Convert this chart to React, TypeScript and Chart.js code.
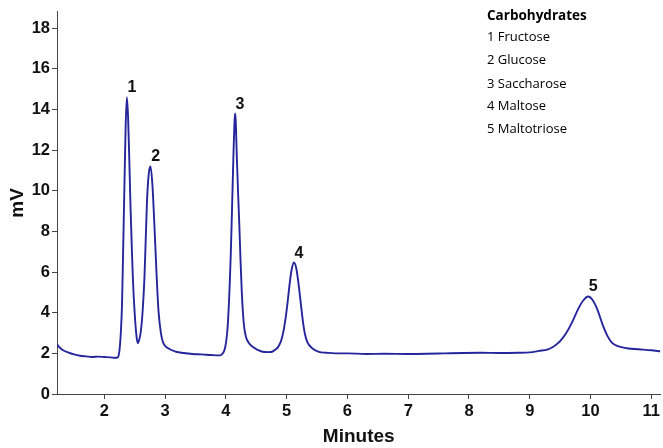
import { useEffect, useRef } from "react";
import { Chart, registerables } from "chart.js";

Chart.register(...registerables);

// Chromatogram trace: retention time (min) and detector signal (mV)
const retentionTimes = [
  1.22, 1.26, 1.32, 1.4, 1.5, 1.6, 1.7, 1.8, 1.9, 2.0, 2.1, 2.18, 2.22,
  2.25, 2.27, 2.29, 2.31, 2.33, 2.35, 2.37, 2.39, 2.41, 2.43, 2.45, 2.47, 2.5, 2.53, 2.55,
  2.58, 2.6, 2.62, 2.64, 2.66, 2.68, 2.7, 2.72, 2.74, 2.76, 2.79, 2.82, 2.86, 2.89, 2.93, 2.97,
  3.05, 3.18, 3.3, 3.45, 3.6, 3.75, 3.88,
  3.92, 3.95, 3.98, 4.0, 4.02, 4.035, 4.05, 4.065, 4.08, 4.095, 4.11, 4.125, 4.14, 4.15,
  4.16, 4.18, 4.2, 4.22, 4.24, 4.26, 4.28, 4.3, 4.33, 4.38, 4.45, 4.6,
  4.7, 4.76, 4.82, 4.86, 4.9, 4.93, 4.96, 4.99, 5.02, 5.05, 5.08, 5.12,
  5.16, 5.2, 5.24, 5.27, 5.3, 5.34, 5.42, 5.53,
  5.65, 5.8, 6.0, 6.3, 6.6, 7.0, 7.3, 7.6, 7.9, 8.2, 8.5, 8.8, 9.0, 9.15,
  9.3, 9.4, 9.5, 9.6, 9.7, 9.8, 9.88, 9.96, 10.04, 10.12, 10.2, 10.28, 10.36, 10.45, 10.6, 10.8,
  11.0, 11.15,
];

const signalMv = [
  2.45, 2.3, 2.15, 2.05, 1.95, 1.88, 1.85, 1.82, 1.84, 1.82, 1.8, 1.78, 1.8,
  2.2, 3.0, 4.4, 7.3, 10.3, 13.2, 14.6, 13.6, 11.5, 9.2, 7.3, 5.6, 3.9, 2.8, 2.5,
  2.75, 3.1, 3.7, 4.6, 5.8, 7.6, 9.4, 10.5, 11.05, 11.2, 10.3, 8.5, 5.8, 4.1, 3.0, 2.5,
  2.25, 2.08, 2.02, 1.97, 1.95, 1.92, 1.9,
  1.92, 2.0, 2.2, 2.5, 3.0, 3.6, 4.5, 5.6, 6.9, 8.5, 10.2, 11.9, 13.3, 13.8,
  13.5, 11.6, 9.9, 8.35, 6.6, 5.1, 4.0, 3.3, 2.8, 2.5, 2.3, 2.08,
  2.06, 2.08, 2.2, 2.32, 2.55, 2.85, 3.3, 3.9, 4.65, 5.45, 6.1, 6.47,
  6.15, 5.3, 4.25, 3.5, 2.95, 2.55, 2.25, 2.07,
  2.03, 2.0, 2.0, 1.97, 1.98, 1.97, 1.98, 2.0, 2.02, 2.03, 2.02, 2.03, 2.05, 2.12,
  2.2, 2.35, 2.6, 3.0, 3.55, 4.2, 4.6, 4.8, 4.6, 4.1, 3.4, 2.85, 2.5, 2.35, 2.25, 2.2,
  2.15, 2.1,
];

// Peak numbering and apex retention times
const peakNumbers = ["1", "2", "3", "4", "5"];
const peakTimes = [2.37, 2.76, 4.15, 5.12, 9.96];

// Legend block
const legendTitle = "Carbohydrates";
const compoundNames = [
  "1 Fructose",
  "2 Glucose",
  "3 Saccharose",
  "4 Maltose",
  "5 Maltotriose",
];

const X_MIN = 1.22;
const X_MAX = 11.15;
const Y_MIN = 0;
const Y_MAX = 18.8;

const TRACE_COLOR = "#25259c";
const AXIS_COLOR = "#444444";
const TEXT_COLOR = "#111111";
const TICK_FONT = "'Liberation Sans', Arial, sans-serif";

const annotationPlugin = {
  id: "peakLabelsAndLegend",
  afterDatasetsDraw(chart: any) {
    const { ctx, scales } = chart;
    const xs = scales.x;
    const ys = scales.y;
    ctx.save();

    // peak numbers above each apex
    ctx.fillStyle = TEXT_COLOR;
    ctx.font = `bold 16px ${TICK_FONT}`;
    ctx.textAlign = "center";
    ctx.textBaseline = "alphabetic";
    peakNumbers.forEach((num, i) => {
      const idx = retentionTimes.indexOf(peakTimes[i]);
      const height = signalMv[idx];
      const px = xs.getPixelForValue(peakTimes[i]) + 5;
      const py = ys.getPixelForValue(height) - 5;
      ctx.fillText(num, px, py);
    });

    // compound legend
    ctx.textAlign = "left";
    ctx.textBaseline = "middle";
    const lx = 487;
    ctx.font = "bold 13.5px 'Open Sans', sans-serif";
    ctx.fillStyle = "#000000";
    ctx.fillText(legendTitle, lx, 16);
    ctx.font = "13px 'Open Sans', sans-serif";
    const rows = [37, 60, 84, 106, 129];
    compoundNames.forEach((name, i) => {
      ctx.fillText(name, lx, rows[i]);
    });

    ctx.restore();
  },
};

export default function App() {
  const canvasRef = useRef<HTMLCanvasElement | null>(null);

  useEffect(() => {
    const canvas = canvasRef.current;
    if (!canvas) return;
    const points = retentionTimes.map((t, i) => ({ x: t, y: signalMv[i] }));

    const chart = new Chart(canvas, {
      type: "line",
      data: {
        datasets: [
          {
            data: points,
            borderColor: TRACE_COLOR,
            borderWidth: 1.9,
            pointRadius: 0,
            cubicInterpolationMode: "monotone",
            fill: false,
          },
        ],
      },
      options: {
        animation: false,
        responsive: false,
        devicePixelRatio: 1,
        layout: { padding: { top: 10, right: 0, left: 0, bottom: 0 } },
        plugins: {
          legend: { display: false },
          tooltip: { enabled: false },
        },
        scales: {
          x: {
            type: "linear",
            min: X_MIN,
            max: X_MAX,
            afterFit(scale: any) {
              scale.height = 54;
            },
            ticks: {
              stepSize: 1,
              includeBounds: false,
              color: TEXT_COLOR,
              font: { family: TICK_FONT, size: 16.5, weight: "bold" },
              padding: 3,
              maxRotation: 0,
            },
            grid: {
              drawOnChartArea: false,
              drawTicks: true,
              tickLength: 5,
              color: AXIS_COLOR,
            },
            border: { color: AXIS_COLOR, width: 1 },
            title: {
              display: true,
              text: "Minutes",
              color: TEXT_COLOR,
              font: { family: TICK_FONT, size: 19, weight: "bold" },
              padding: { top: 0, bottom: 0 },
            },
          },
          y: {
            min: Y_MIN,
            max: Y_MAX,
            afterFit(scale: any) {
              scale.width = 57;
            },
            ticks: {
              stepSize: 2,
              includeBounds: false,
              color: TEXT_COLOR,
              font: { family: TICK_FONT, size: 16.5, weight: "bold" },
              padding: 2,
            },
            grid: {
              drawOnChartArea: false,
              drawTicks: true,
              tickLength: 5,
              color: AXIS_COLOR,
            },
            border: { color: AXIS_COLOR, width: 1 },
            title: {
              display: true,
              text: "mV",
              color: TEXT_COLOR,
              font: { family: TICK_FONT, size: 19, weight: "bold" },
              padding: { top: 6, bottom: 0 },
            },
          },
        },
      },
      plugins: [annotationPlugin],
    });

    return () => chart.destroy();
  }, []);

  return (
    <div
      style={{
        position: "fixed",
        left: 0,
        top: 0,
        width: 663,
        height: 448,
        background: "#ffffff",
      }}
    >
      <canvas ref={canvasRef} width={663} height={448} />
    </div>
  );
}
